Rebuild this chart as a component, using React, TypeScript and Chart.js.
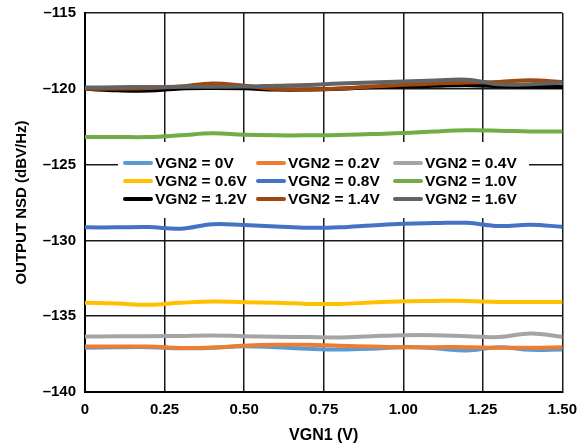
import React, { useEffect, useRef } from "react";
import { Chart, registerables } from "chart.js";

Chart.register(...registerables);

const xVals = [0, 0.1, 0.2, 0.3, 0.4, 0.5, 0.6, 0.7, 0.8, 0.9, 1.0, 1.1, 1.2, 1.3, 1.4, 1.5];

const seriesLabels = [
  "VGN2 = 0V", "VGN2 = 0.2V", "VGN2 = 0.4V",
  "VGN2 = 0.6V", "VGN2 = 0.8V", "VGN2 = 1.0V",
  "VGN2 = 1.2V", "VGN2 = 1.4V", "VGN2 = 1.6V",
];

const seriesColors = [
  "#5B9BD5", "#ED7D31", "#A5A5A5",
  "#FFC000", "#4472C4", "#70AD47",
  "#000000", "#9E480E", "#636363",
];

const vgn0 = [-137.08, -137.05, -137.04, -137.12, -137.08, -136.98, -137.05, -137.15, -137.2, -137.15, -137.04, -137.12, -137.26, -137.05, -137.22, -137.2];
const vgn02 = [-137.0, -137.0, -137.0, -137.1, -137.07, -136.95, -136.89, -136.88, -136.95, -137.0, -137.04, -137.04, -137.04, -137.08, -137.08, -137.04];
const vgn04 = [-136.34, -136.33, -136.32, -136.3, -136.27, -136.32, -136.35, -136.38, -136.4, -136.32, -136.25, -136.25, -136.32, -136.38, -136.14, -136.36];
const vgn06 = [-134.12, -134.16, -134.25, -134.12, -134.03, -134.08, -134.12, -134.19, -134.19, -134.1, -134.01, -133.99, -133.99, -134.06, -134.06, -134.06];
const vgn08 = [-129.14, -129.14, -129.12, -129.23, -128.93, -128.99, -129.08, -129.17, -129.14, -129.01, -128.9, -128.86, -128.84, -129.05, -128.97, -129.1];
const vgn10 = [-123.18, -123.18, -123.18, -123.07, -122.94, -123.03, -123.07, -123.07, -123.05, -122.98, -122.92, -122.81, -122.74, -122.76, -122.81, -122.81];
const vgn12 = [-120.0, -120.1, -120.12, -119.98, -119.95, -119.97, -120.05, -120.05, -120.0, -119.9, -119.85, -119.8, -119.76, -119.82, -119.87, -119.88];
const vgn14 = [-120.0, -119.98, -119.95, -119.85, -119.65, -119.8, -120.0, -120.05, -119.98, -119.85, -119.74, -119.65, -119.58, -119.55, -119.43, -119.55];
const vgn16 = [-119.92, -119.9, -119.88, -119.87, -119.86, -119.85, -119.8, -119.75, -119.65, -119.58, -119.52, -119.45, -119.4, -119.7, -119.7, -119.6];

const seriesValues = [vgn0, vgn02, vgn04, vgn06, vgn08, vgn10, vgn12, vgn14, vgn16];

const FONT = "'Liberation Sans', Arial, Helvetica, sans-serif";
const SHIFT = 5;

const legendPlugin = {
  id: "boxLegend",
  beforeDatasetsDraw(chart: any) {
    const ctx = chart.ctx;
    ctx.save();
    ctx.fillStyle = "#ffffff";
    ctx.fillRect(118, 142 + SHIFT, 411, 76);
    const colX = [125, 258, 395];
    const rowY = [163, 181, 199].map((v) => v + SHIFT);
    ctx.font = `bold 15.5px ${FONT}`;
    ctx.textBaseline = "middle";
    ctx.textAlign = "left";
    chart.data.datasets.forEach((ds: any, i: number) => {
      const x = colX[i % 3];
      const y = rowY[Math.floor(i / 3)];
      ctx.strokeStyle = ds.borderColor;
      ctx.lineWidth = 4;
      ctx.lineCap = "round";
      ctx.beginPath();
      ctx.moveTo(x, y);
      ctx.lineTo(x + 26, y);
      ctx.stroke();
      ctx.fillStyle = "#000";
      ctx.fillText(ds.label, x + 30, y + 1);
    });
    ctx.restore();
  },
};

export default function App() {
  const ref = useRef<HTMLCanvasElement | null>(null);
  useEffect(() => {
    document.body.style.margin = "0";
    const canvas = ref.current;
    if (!canvas) return;
    const datasets = seriesValues.map((vals, i) => ({
      label: seriesLabels[i],
      data: vals.map((v, j) => ({ x: xVals[j], y: v })),
      borderColor: seriesColors[i],
      backgroundColor: seriesColors[i],
      borderWidth: 4,
      pointRadius: 0,
      tension: 0.4,
      borderCapStyle: "round" as const,
      fill: false,
      order: 20 - i,
    }));
    const chart = new Chart(canvas, {
      type: "line",
      data: { datasets },
      plugins: [legendPlugin],
      options: {
        responsive: false,
        animation: false,
        layout: { padding: { left: 0, right: 23, top: 7, bottom: 0 } },
        plugins: { legend: { display: false }, tooltip: { enabled: false } },
        scales: {
          x: {
            type: "linear",
            min: 0,
            max: 1.5,
            ticks: {
              stepSize: 0.25,
              color: "#000",
              font: { family: FONT, size: 15, weight: "bold" },
              padding: 9,
              maxRotation: 0,
              callback: (v: any) => (Number(v) === 0 ? "0" : Number(v).toFixed(2)),
            },
            grid: { color: "#1a1a1a", lineWidth: 1.5, drawTicks: false },
            border: { color: "#000", width: 2 },
            title: {
              display: true,
              text: "VGN1 (V)",
              color: "#000",
              font: { family: FONT, size: 16, weight: "bold" },
              padding: { top: 0, bottom: 3 },
            },
            afterFit: (s: any) => { s.height = 56; },
          },
          y: {
            type: "linear",
            min: -140,
            max: -115,
            ticks: {
              stepSize: 5,
              color: "#000",
              font: { family: FONT, size: 15, weight: "bold" },
              padding: 9,
              callback: (v: any) => (Number(v) < 0 ? "\u2013" + Math.abs(Number(v)) : String(v)),
            },
            grid: { color: "#1a1a1a", lineWidth: 1.5, drawTicks: false },
            border: { color: "#000", width: 2 },
            title: {
              display: true,
              text: "OUTPUT NSD (dBV/Hz)",
              color: "#000",
              font: { family: FONT, size: 15, weight: "bold" },
              padding: { top: 13, bottom: 0 },
            },
            afterFit: (s: any) => { s.width = 85; },
          },
        },
      },
    });
    return () => chart.destroy();
  }, []);
  return (
    <div style={{ width: 586, height: 448, background: "#fff", overflow: "hidden" }}>
      <canvas ref={ref} width={586} height={448 + SHIFT} style={{ display: "block", marginTop: -SHIFT }} />
    </div>
  );
}
